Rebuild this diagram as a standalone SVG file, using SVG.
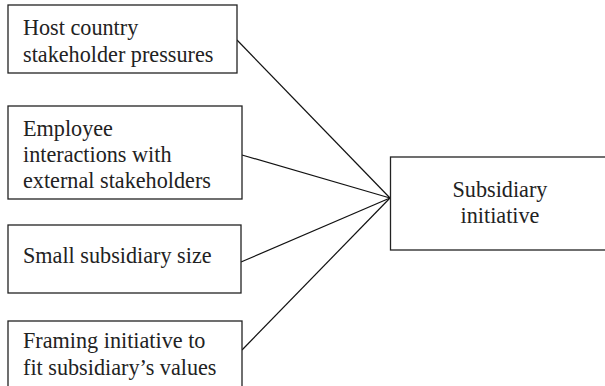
<svg xmlns="http://www.w3.org/2000/svg" width="605" height="386" viewBox="0 0 605 386">
<style>
.box{fill:#fff;stroke:#222;stroke-width:1.3}
.t{font-family:"Liberation Serif","Times New Roman",serif;font-size:22.2px;fill:#222}
.c{stroke:#111;stroke-width:1.2;fill:none}
</style>
<rect width="605" height="386" fill="#fff"/>
<g id="connectors">
<line class="c" x1="237" y1="40" x2="390" y2="198"/>
<line class="c" x1="242" y1="155" x2="390" y2="198"/>
<line class="c" x1="241" y1="262" x2="390" y2="198"/>
<line class="c" x1="242" y1="350" x2="390" y2="198"/>
</g>
<g id="n1">
<rect class="box" x="8" y="5" width="229" height="68"/>
<text class="t" x="23" y="35">Host country</text>
<text class="t" x="23" y="62">stakeholder pressures</text>
</g>
<g id="n2">
<rect class="box" x="8" y="106" width="234" height="93"/>
<text class="t" x="23" y="136">Employee</text>
<text class="t" x="23" y="162">interactions with</text>
<text class="t" x="23" y="188">external stakeholders</text>
</g>
<g id="n3">
<rect class="box" x="8" y="225" width="233" height="68"/>
<text class="t" x="23" y="263">Small subsidiary size</text>
</g>
<g id="n4">
<rect class="box" x="8" y="321" width="234" height="70"/>
<text class="t" x="23" y="348">Framing initiative to</text>
<text class="t" x="23" y="375">fit subsidiary’s values</text>
</g>
<g id="n5">
<rect class="box" x="390.5" y="157" width="220" height="93"/>
<text class="t" x="500" y="197" text-anchor="middle">Subsidiary</text>
<text class="t" x="500" y="223" text-anchor="middle">initiative</text>
</g>
</svg>
